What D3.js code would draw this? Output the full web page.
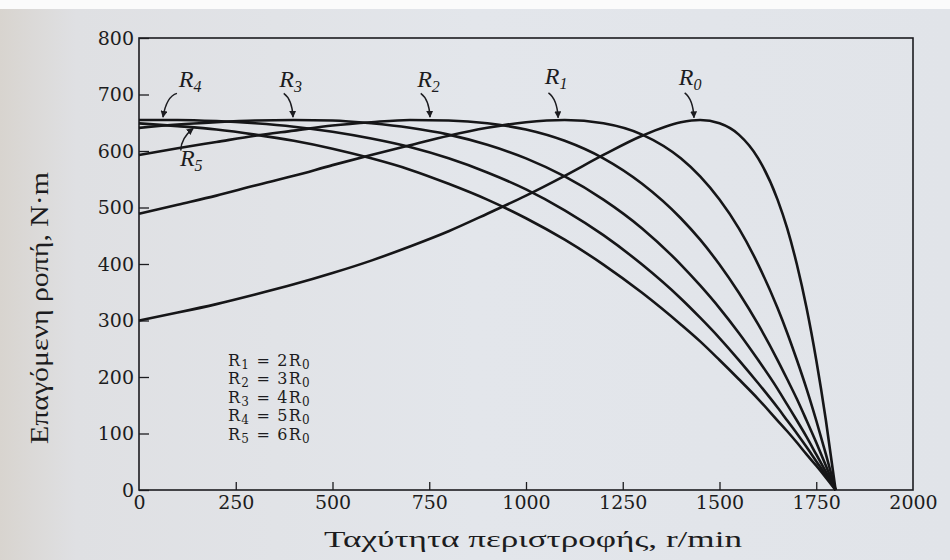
<!DOCTYPE html>
<html>
<head>
<meta charset="utf-8">
<script src="https://cdn.jsdelivr.net/npm/d3@7"></script>
<style>
  body { margin: 0; background: #e4e7ec; }
  svg { display: block; }
  .tick text { font-family: "DejaVu Serif", serif; font-size: 19px; fill: #1c1c20; }
  .tick line { stroke: #1c1c20; stroke-width: 1.3; }
  .curve { fill: none; stroke: #161618; stroke-width: 2.6; }
  .lbl { font-family: "Liberation Serif", serif; font-style: italic; font-size: 24px; fill: #1c1c20; }
  .legend { font-family: "DejaVu Serif", serif; font-size: 16px; letter-spacing: 1.2px; fill: #1c1c20; }
  .title { font-family: "Liberation Serif", serif; fill: #1c1c20; }
</style>
</head>
<body>
<script>
// chart size
var w = 950;
var h = 560;

// rotor speed, r/min
var speed = [0, 100, 200, 300, 400, 500, 600, 700, 800, 900, 1000, 1100, 1200, 1300,
             1400, 1450, 1500, 1550, 1600, 1650, 1675, 1700, 1725, 1750, 1775, 1800];

// induced torque, N·m, one array per rotor resistance
var torqueR0 = [300, 314, 329, 346, 364, 384, 406, 431, 458, 489, 521, 556, 593, 627,
                651, 655, 649, 629, 587, 514, 463, 399, 322, 230, 123, 0];
var torqueR1 = [489, 505, 521, 539, 556, 575, 593, 610, 627, 641, 651, 655, 649, 629,
                587, 555, 514, 463, 399, 322, 278, 230, 179, 123, 63, 0];
var torqueR2 = [593, 605, 616, 627, 636, 645, 651, 655, 654, 649, 638, 618, 587, 542,
                481, 443, 399, 349, 293, 230, 196, 161, 123, 84, 43, 0];
var torqueR3 = [641, 647, 651, 654, 655, 654, 649, 641, 629, 611, 587, 555, 514, 463,
                399, 362, 322, 278, 230, 179, 151, 123, 94, 63, 32, 0];
var torqueR4 = [655, 655, 653, 649, 643, 634, 622, 607, 587, 562, 532, 495, 451, 399,
                339, 305, 269, 230, 189, 146, 123, 100, 76, 51, 26, 0];
var torqueR5 = [649, 644, 638, 629, 618, 604, 587, 567, 542, 514, 481, 443, 399, 349,
                293, 263, 230, 196, 161, 123, 104, 84, 63, 43, 22, 0];

var xTicks = [0, 250, 500, 750, 1000, 1250, 1500, 1750, 2000];
var yTicks = [0, 100, 200, 300, 400, 500, 600, 700, 800];

// curve labels: text anchor and arrow from/to, in data units
var curveLabels = [
  {sub: "4", tx: 132, ty: 714, ax: 98, ay: 702, bx: 62, by: 660},
  {sub: "3", tx: 392, ty: 714, ax: 374, ay: 702, bx: 398, by: 660},
  {sub: "2", tx: 748, ty: 714, ax: 728, ay: 702, bx: 752, by: 660},
  {sub: "1", tx: 1078, ty: 718, ax: 1058, ay: 703, bx: 1083, by: 659},
  {sub: "0", tx: 1424, ty: 716, ax: 1410, ay: 703, bx: 1434, by: 659},
  {sub: "5", tx: 135, ty: 574, ax: 108, ay: 601, bx: 140, by: 640}
];

var legendLines = [["1", "2"], ["2", "3"], ["3", "4"], ["4", "5"], ["5", "6"]];

var svg = d3.select("body")
  .append("svg")
  .attr("width", w)
  .attr("height", h);

// paper background
var grad = svg.append("defs").append("linearGradient")
  .attr("id", "paper")
  .attr("x1", 0).attr("x2", 1).attr("y1", 0).attr("y2", 0);
grad.append("stop").attr("offset", "0").attr("stop-color", "#d8d4cf");
grad.append("stop").attr("offset", "0.08").attr("stop-color", "#dfe0e3");
grad.append("stop").attr("offset", "0.5").attr("stop-color", "#e3e6eb");
grad.append("stop").attr("offset", "1").attr("stop-color", "#e1e4e9");
svg.append("rect").attr("width", w).attr("height", h).attr("fill", "url(#paper)");
svg.append("rect").attr("width", w).attr("height", 9).attr("fill", "#fbfbfb");

svg.select("defs").append("marker")
  .attr("id", "head")
  .attr("viewBox", "0 0 10 10")
  .attr("refX", 9).attr("refY", 5)
  .attr("markerWidth", 7).attr("markerHeight", 7)
  .attr("markerUnits", "userSpaceOnUse")
  .attr("orient", "auto")
  .append("path")
  .attr("d", "M0,0 L10,5 L0,10 Z")
  .attr("fill", "#1c1c20");

var x = d3.scaleLinear().domain([0, 2000]).range([139, 913]);
var y = d3.scaleLinear().domain([0, 800]).range([490, 38]);

// frame
svg.append("rect")
  .attr("x", x(0)).attr("y", y(800))
  .attr("width", x(2000) - x(0)).attr("height", y(0) - y(800))
  .attr("fill", "none").attr("stroke", "#1c1c20").attr("stroke-width", 1.6);

// axes with inward ticks
svg.append("g")
  .attr("transform", "translate(" + x(0) + ",0)")
  .call(d3.axisLeft(y).tickValues(yTicks).tickFormat(d3.format("d"))
    .tickSizeInner(-10).tickSizeOuter(0).tickPadding(5))
  .call(function(g) { g.select(".domain").remove(); });

svg.append("g")
  .attr("transform", "translate(0," + y(0) + ")")
  .call(d3.axisBottom(x).tickValues(xTicks).tickFormat(d3.format("d"))
    .tickSizeInner(-8).tickSizeOuter(0).tickPadding(6))
  .call(function(g) {
    g.select(".domain").remove();
    g.selectAll(".tick").filter(function(d) { return d == 0 || d == 2000; }).select("line").remove();
  });

// torque-speed curves
var curves = [torqueR0, torqueR1, torqueR2, torqueR3, torqueR4, torqueR5];
var line = d3.line()
  .x(function(d, i) { return x(speed[i]); })
  .y(function(d) { return y(d); })
  .curve(d3.curveMonotoneX);

svg.selectAll("path.curve")
  .data(curves)
  .enter()
  .append("path")
  .attr("class", "curve")
  .attr("d", line);

// labels with curved arrows
curveLabels.forEach(function(c) {
  var x0 = x(c.ax), y0 = y(c.ay), x1 = x(c.bx), y1 = y(c.by);
  var cx = x1 - (x1 - x0) * 0.1, cy = y0 + (y1 - y0) * 0.25;
  if (c.sub == "5") { cx = x0; cy = y1 + (y0 - y1) * 0.45; }
  if (c.sub == "4") { cx = x1 + (x0 - x1) * 0.25; cy = y0 + 3; }
  svg.append("path")
    .attr("d", "M" + x0 + "," + y0 + " Q" + cx + "," + cy + " " + x1 + "," + y1)
    .attr("fill", "none")
    .attr("stroke", "#1c1c20")
    .attr("stroke-width", 1.5)
    .attr("marker-end", "url(#head)");
  var t = svg.append("text")
    .attr("class", "lbl")
    .attr("x", x(c.tx))
    .attr("y", y(c.ty))
    .attr("text-anchor", "middle");
  t.append("tspan").text("R");
  t.append("tspan").attr("font-size", 16).attr("dy", 5).text(c.sub);
});

// resistance ratios
var legend = svg.append("g");
legendLines.forEach(function(l, i) {
  var t = legend.append("text")
    .attr("class", "legend")
    .attr("x", x(230))
    .attr("y", y(220) + i * 18.5);
  t.append("tspan").text("R");
  t.append("tspan").attr("font-size", 12).attr("dy", 3).text(l[0]);
  t.append("tspan").attr("dy", -3).text(" = " + l[1] + "R");
  t.append("tspan").attr("font-size", 12).attr("dy", 3).text("0");
});

// axis titles
svg.append("text")
  .attr("class", "title")
  .attr("x", 533)
  .attr("y", 547)
  .attr("text-anchor", "middle")
  .attr("font-size", 24)
  .attr("textLength", 418)
  .attr("lengthAdjust", "spacingAndGlyphs")
  .text("Ταχύτητα περιστροφής, r/min");

svg.append("text")
  .attr("class", "title")
  .attr("transform", "translate(48,308) rotate(-90)")
  .attr("text-anchor", "middle")
  .attr("font-size", 25)
  .attr("textLength", 272)
  .attr("lengthAdjust", "spacingAndGlyphs")
  .text("Επαγόμενη ροπή, N·m");
</script>
</body>
</html>
